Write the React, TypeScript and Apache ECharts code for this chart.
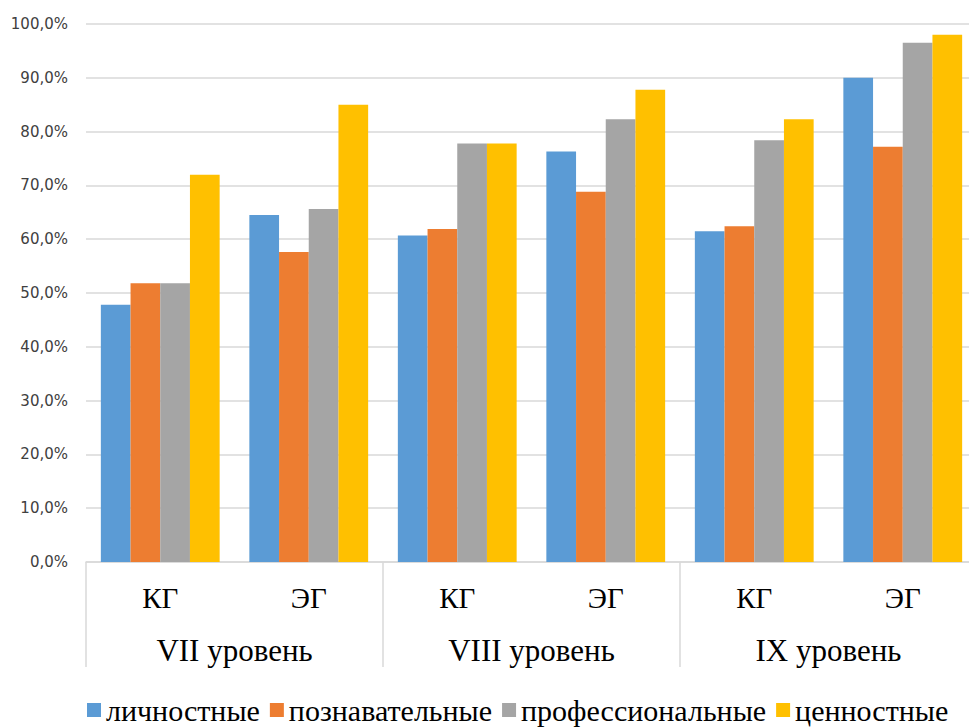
import React, { useEffect, useRef } from "react";
import * as echarts from "echarts";

const groups = ["КГ", "ЭГ", "КГ", "ЭГ", "КГ", "ЭГ"];
const levels = ["VII уровень", "VIII уровень", "IX уровень"];
const seriesNames = ["личностные", "познавательные", "профессиональные", "ценностные"];
const lichnostnye = [47.8, 64.5, 60.7, 76.3, 61.5, 90.0];
const poznavatelnye = [51.8, 57.6, 61.9, 68.8, 62.4, 77.2];
const professionalnye = [51.8, 65.6, 77.8, 82.3, 78.4, 96.5];
const tsennostnye = [72.0, 85.0, 77.8, 87.8, 82.3, 98.0];
const colors = ["#5B9BD5", "#ED7D31", "#A5A5A5", "#FFC000"];
const yTicks = { min: 0, max: 100, interval: 10 };

const serif = "'Liberation Serif', 'Times New Roman', serif";

export default function App() {
  const ref = useRef<HTMLDivElement>(null);
  useEffect(() => {
    if (!ref.current) return;
    const chart = echarts.init(ref.current, null, { renderer: "svg" });
    const data = [lichnostnye, poznavatelnye, professionalnye, tsennostnye];
    chart.setOption({
      animation: false,
      color: colors,
      grid: { left: 86, right: 8, top: 24, bottom: 166, containLabel: false },
      legend: {
        left: 82,
        top: 690,
        itemWidth: 14,
        itemHeight: 14,
        itemGap: 10,
        icon: "rect",
        textStyle: { fontFamily: serif, fontSize: 30, color: "#000" },
        data: seriesNames,
      },
      xAxis: [
        {
          type: "category",
          data: groups,
          position: "bottom",
          axisLine: { show: true, lineStyle: { color: "#d9d9d9", width: 1.5 } },
          axisTick: { show: false },
          axisLabel: {
            margin: 21,
            fontFamily: serif,
            fontSize: 29,
            color: "#000",
          },
        },
        {
          type: "category",
          data: levels,
          position: "bottom",
          axisLine: { show: false },
          axisTick: {
            show: true,
            interval: 0,
            length: 105,
            lineStyle: { color: "#d9d9d9", width: 1.5 },
          },
          axisLabel: {
            margin: 73,
            fontFamily: serif,
            fontSize: 31,
            color: "#000",
          },
        },
      ],
      yAxis: {
        type: "value",
        min: yTicks.min,
        max: yTicks.max,
        interval: yTicks.interval,
        axisLine: { show: false },
        axisTick: { show: false },
        splitLine: { lineStyle: { color: "#d9d9d9", width: 1.5 } },
        axisLabel: {
          margin: 18,
          fontFamily: "DejaVu Sans",
          fontSize: 15,
          color: "#404040",
          formatter: (v: number) => v.toFixed(1).replace(".", ",") + "%",
        },
      },
      series: seriesNames.map((name, i) => ({
        name,
        type: "bar",
        xAxisIndex: 0,
        data: data[i],
        barGap: "0%",
        barCategoryGap: "20%",
        itemStyle: { color: colors[i] },
      })),
    });
    return () => chart.dispose();
  }, []);
  return (
    <div
      ref={ref}
      style={{ position: "fixed", left: 0, top: 0, width: 985, height: 728, background: "#fff" }}
    />
  );
}
